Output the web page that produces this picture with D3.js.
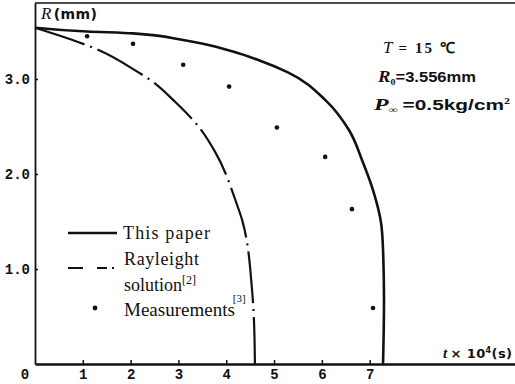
<!DOCTYPE html>
<html><head><meta charset="utf-8">
<script src="https://cdn.jsdelivr.net/npm/d3@7"></script>
<style>body{margin:0;background:#fff} svg{display:block}</style>
</head><body>
<svg id="chart" width="515" height="384"></svg>
<script>
// Axis ticks: time in units of 10^4 s, radius in mm
const tTicks = [1, 2, 3, 4, 5, 6, 7];
const rTicks = [1, 2, 3];
const rTickLabels = ["1.0", "2.0", "3.0"];

// Bubble radius R(t) from the present model
const paperT = [0, 1.09, 2.05, 3.10, 4.14, 4.67, 5.29, 6.09, 6.57, 6.86, 7.07, 7.24, 7.28, 7.30, 7.28];
const paperR = [3.54, 3.50, 3.48, 3.41, 3.29, 3.20, 3.07, 2.77, 2.46, 2.12, 1.83, 1.48, 1.20, 0.67, 0];

// Rayleigh solution
const rayT = [0, 0.90, 1.26, 2.13, 2.41, 2.93, 3.45, 3.77, 4.23, 4.33, 4.54, 4.58, 4.60];
const rayR = [3.54, 3.39, 3.32, 3.08, 2.99, 2.76, 2.48, 2.23, 1.67, 1.52, 0.78, 0.46, 0];

// Measured radius
const measT = [1.09, 2.05, 3.10, 4.06, 5.06, 6.07, 6.63, 7.07];
const measR = [3.45, 3.37, 3.15, 2.92, 2.49, 2.18, 1.63, 0.59];

const svg = d3.select("#chart");
const x = d3.scaleLinear().domain([0, 10.04]).range([35, 515]);
const y = d3.scaleLinear().domain([0, 3.8]).range([364, 3]);
const ink = "#111";

// frame top edge
svg.append("line").attr("x1", x(0)).attr("x2", x(10.04)).attr("y1", y(3.8)).attr("y2", y(3.8))
  .attr("stroke", ink).attr("stroke-width", 1.6);

const tickFont = g => g.selectAll("text")
  .attr("font-family", "Liberation Mono, monospace").attr("font-weight", "bold")
  .attr("font-size", 14).attr("fill", ink);

const xAxis = svg.append("g").attr("transform", `translate(0,${y(0)})`)
  .call(d3.axisBottom(x).tickValues(tTicks).tickFormat(d3.format("d"))
    .tickSizeInner(-4).tickSizeOuter(0).tickPadding(5));
xAxis.select(".domain").attr("stroke", ink).attr("stroke-width", 2.4);
xAxis.selectAll(".tick line").attr("stroke", ink).attr("stroke-width", 1.5);
xAxis.call(tickFont);

const yAxis = svg.append("g").attr("transform", `translate(${x(0)},0)`)
  .call(d3.axisLeft(y).tickValues(rTicks).tickFormat((d, i) => rTickLabels[i])
    .tickSizeInner(-3).tickSizeOuter(0).tickPadding(5));
yAxis.select(".domain").attr("stroke", ink).attr("stroke-width", 1.8);
yAxis.selectAll(".tick line").attr("stroke", ink).attr("stroke-width", 1.5);
yAxis.call(tickFont);

// shared origin label
svg.append("text").attr("x", 25).attr("y", 379).attr("text-anchor", "middle")
  .attr("font-family", "Liberation Mono, monospace").attr("font-weight", "bold")
  .attr("font-size", 14).attr("fill", ink).text("0");

// R falls monotonically along each curve, so interpolate along the vertical
const line = d3.line().x(d => x(d[0])).y(d => y(d[1])).curve(d3.curveMonotoneY);

svg.append("path").datum(paperT.map((t, i) => [t, paperR[i]]))
  .attr("d", line).attr("fill", "none").attr("stroke", ink).attr("stroke-width", 2.6);

svg.append("path").datum(rayT.map((t, i) => [t, rayR[i]]))
  .attr("d", line).attr("fill", "none").attr("stroke", ink).attr("stroke-width", 2.2)
  .attr("stroke-dasharray", "52 6 2 6");

svg.selectAll("circle.meas").data(measT.map((t, i) => [t, measR[i]])).join("circle")
  .attr("class", "meas").attr("cx", d => x(d[0])).attr("cy", d => y(d[1]))
  .attr("r", 2.3).attr("fill", ink);

// axis titles
const yTitle = svg.append("text").attr("x", 41).attr("y", 19).attr("fill", ink)
  .attr("font-family", "Liberation Serif, serif").attr("font-size", 17)
  .attr("textLength", 56).attr("lengthAdjust", "spacing");
yTitle.append("tspan").attr("font-style", "italic").text("R");
yTitle.append("tspan").attr("font-family", "DejaVu Sans, sans-serif").attr("font-weight", "bold")
  .attr("font-size", 14).attr("dx", 2).text("(mm)");

const xTitle = svg.append("text").attr("x", 443).attr("y", 358).attr("fill", ink)
  .attr("font-family", "DejaVu Sans, sans-serif").attr("font-weight", "bold").attr("font-size", 13)
  .attr("textLength", 69).attr("lengthAdjust", "spacing");
xTitle.append("tspan").attr("font-family", "Liberation Serif, serif").attr("font-style", "italic")
  .attr("font-size", 15).text("t");
xTitle.append("tspan").attr("dx", 3).text("× 10");
xTitle.append("tspan").attr("font-size", 8).attr("dy", -5).text("4");
xTitle.append("tspan").attr("dy", 5).text("(s)");

// conditions
const cond = svg.append("g").attr("fill", ink).attr("font-family", "Liberation Serif, serif")
  .attr("font-weight", "bold").attr("font-size", 15);
const c1 = cond.append("text").attr("x", 383).attr("y", 53)
  .attr("textLength", 72).attr("lengthAdjust", "spacing");
c1.append("tspan").attr("font-style", "italic").attr("font-weight", "normal").attr("font-size", 17).text("T");
c1.append("tspan").attr("dx", 4).text("= 15 ℃");
const c2 = cond.append("text").attr("x", 378).attr("y", 82)
  .attr("textLength", 98).attr("lengthAdjust", "spacingAndGlyphs");
c2.append("tspan").attr("font-style", "italic").attr("font-size", 17).text("R");
c2.append("tspan").attr("font-size", 9).attr("dy", 3).text("0");
c2.append("tspan").attr("dy", -3).attr("font-family", "Liberation Sans, sans-serif").text("=3.556mm");
const c3 = cond.append("text").attr("x", 374).attr("y", 110)
  .attr("textLength", 136).attr("lengthAdjust", "spacingAndGlyphs");
c3.append("tspan").attr("font-style", "italic").attr("font-size", 16).text("P");
c3.append("tspan").attr("font-size", 9).attr("dy", 3).text("∞");
c3.append("tspan").attr("dy", -3).attr("dx", 3).attr("font-family", "Liberation Sans, sans-serif")
  .attr("font-size", 14).text("=0.5kg/cm");
c3.append("tspan").attr("font-size", 8).attr("dy", -6).text("2");

// legend
const leg = svg.append("g").attr("fill", ink).attr("font-family", "Liberation Serif, serif").attr("font-size", 18);
leg.append("line").attr("x1", 68).attr("x2", 117).attr("y1", 233).attr("y2", 233)
  .attr("stroke", ink).attr("stroke-width", 2.6);
leg.append("text").attr("x", 123).attr("y", 239).attr("textLength", 87).text("This paper");
leg.append("line").attr("x1", 68).attr("x2", 114).attr("y1", 268).attr("y2", 268)
  .attr("stroke", ink).attr("stroke-width", 2.2).attr("stroke-dasharray", "15 14 10 5 2 20");
leg.append("text").attr("x", 124).attr("y", 265).attr("textLength", 75).text("Rayleight");
const sol = leg.append("text").attr("x", 124).attr("y", 291);
sol.append("tspan").text("solution");
sol.append("tspan").attr("font-size", 12).attr("dy", -7).text("[2]");
leg.append("circle").attr("cx", 95).attr("cy", 308).attr("r", 2.4).attr("fill", ink);
const ms = leg.append("text").attr("x", 124).attr("y", 316);
ms.append("tspan").attr("font-size", 19).text("Measurements");
ms.append("tspan").attr("font-size", 11).attr("dy", -14).attr("dx", -2).text("[3]");
</script>
</body></html>
